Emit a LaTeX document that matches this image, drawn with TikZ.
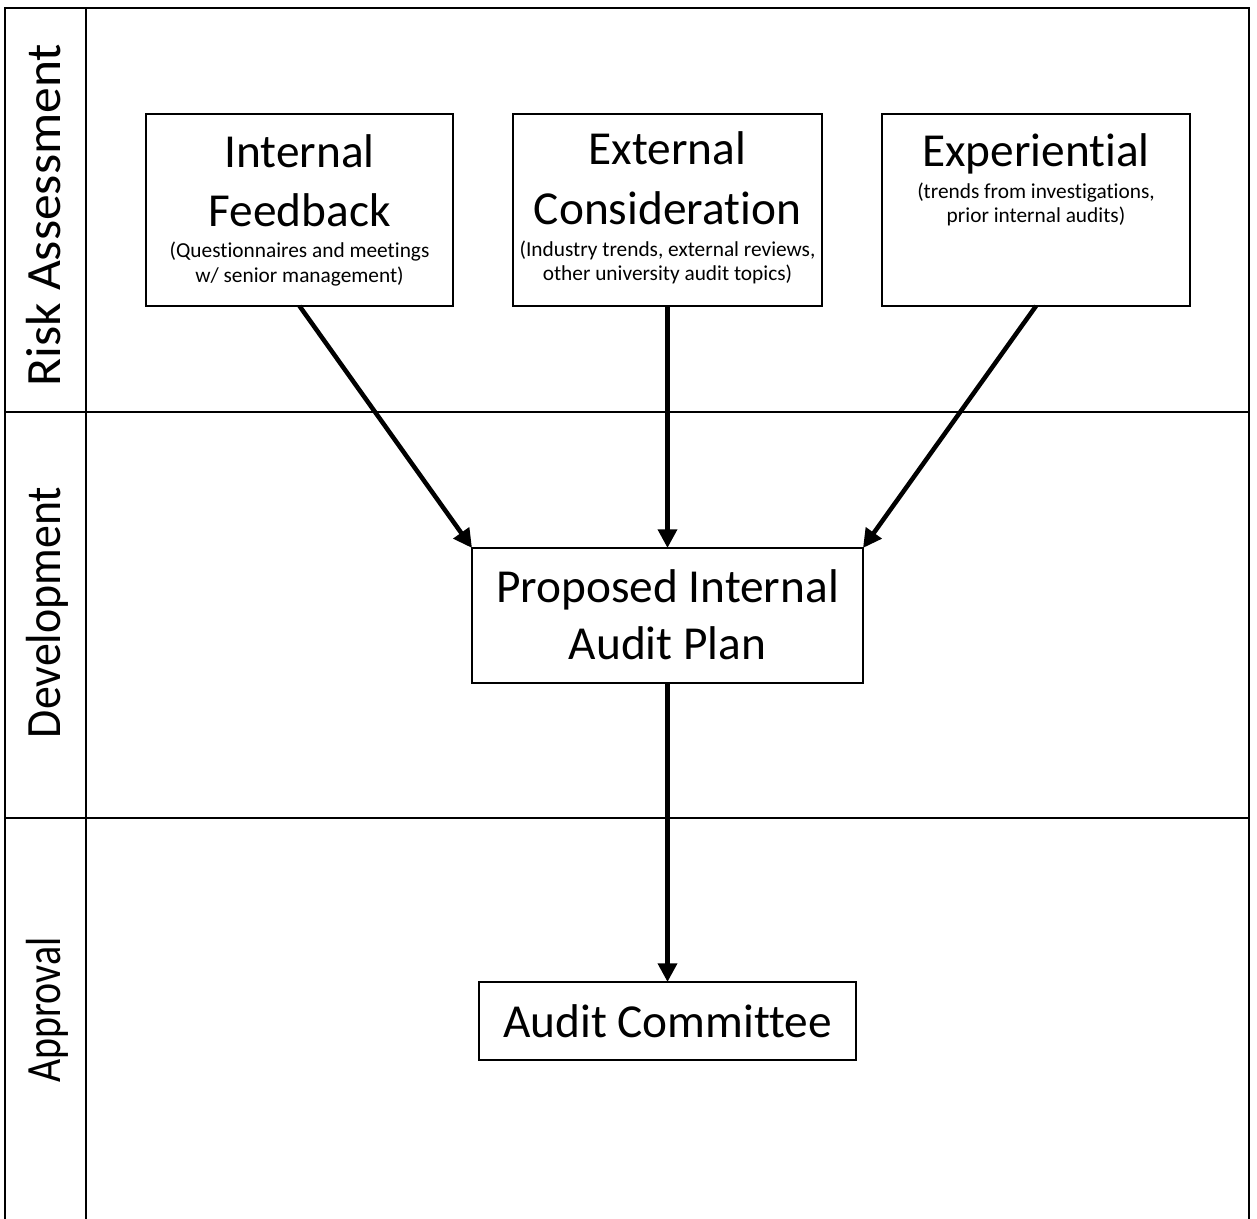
\documentclass[tikz,border=0pt]{standalone}
\usepackage{fontspec}
\setmainfont{Carlito}[Ligatures=CommonOff]
\usetikzlibrary{arrows.meta}
\tikzset{
  box/.style={draw, line width=1.5pt, inner sep=0pt, outer sep=0pt},
  big/.style={font=\fontsize{35.5}{42}\selectfont, inner sep=0pt, anchor=base},
  small/.style={font=\fontsize{16}{19}\selectfont, inner sep=0pt, anchor=base},
  lane/.style={font=\fontsize{37}{44}\selectfont, inner sep=0pt, anchor=base, rotate=90},
  frame/.style={line width=2.2pt},
  divider/.style={line width=1.5pt},
  flow/.style={line width=3.4pt, -{Triangle[length=14pt,width=14pt]}}
}
\begin{document}
\begin{tikzpicture}[x=0.75pt,y=-0.75pt]
\useasboundingbox (0,0) rectangle (1257,1219);
% lanes
\draw[frame] (5,1219) -- (5,8) -- (1249,8) -- (1249,1219);
\draw[frame] (86,8) -- (86,1219);
\draw[divider] (5,412) -- (1249,412);
\draw[divider] (5,818) -- (1249,818);
\node[lane] (l1) at (60,215) {\scalebox{1.046}[1]{Risk Assessment}};
\node[lane] (l2) at (60,612.5) {\scalebox{0.93}[1]{Development}};
\node[lane] (l3) at (60,1010) {\scalebox{0.81}[1]{Approval}};
% boxes
\node[box, minimum width=307*0.75pt, minimum height=192*0.75pt] (ifb) at (299.5,210) {};
\node[box, minimum width=309*0.75pt, minimum height=192*0.75pt] (ecb) at (667.5,210) {};
\node[box, minimum width=308*0.75pt, minimum height=192*0.75pt] (exb) at (1036,210) {};
\node[box, minimum width=391*0.75pt, minimum height=135*0.75pt] (plan) at (667.5,615.5) {};
\node[box, minimum width=377*0.75pt, minimum height=78*0.75pt] (ac) at (667.5,1021) {};
% texts
\node[big] (if1) at (299.5,168) {Internal};
\node[big] (if2) at (299.5,227) {Feedback};
\node[small] (if3) at (299.5,258) {(Questionnaires and meetings};
\node[small] (if4) at (299.5,283) {w/ senior management)};
\node[big] (ec1) at (667.5,165) {External};
\node[big] (ec2) at (667.5,225) {Consideration};
\node[small] (ec3) at (667.5,257) {(Industry trends, external reviews,};
\node[small] (ec4) at (667.5,281) {other university audit topics)};
\node[big] (ex1) at (1036,167) {Experiential};
\node[small] (ex2) at (1036,199) {(trends from investigations,};
\node[small] (ex3) at (1036,223) {prior internal audits)};
\node[big] (pl1) at (667.5,602) {Proposed Internal};
\node[big] (pl2) at (667.5,659) {Audit Plan};
\node[big] (ac1) at (667.5,1037) {Audit Committee};
% arrows
\draw[flow] (ifb.south) -- (plan.north west);
\draw[flow] (ecb.south) -- (plan.north);
\draw[flow] (exb.south) -- (plan.north east);
\draw[flow] (plan.south) -- (ac.north);
\end{tikzpicture}
\end{document}
